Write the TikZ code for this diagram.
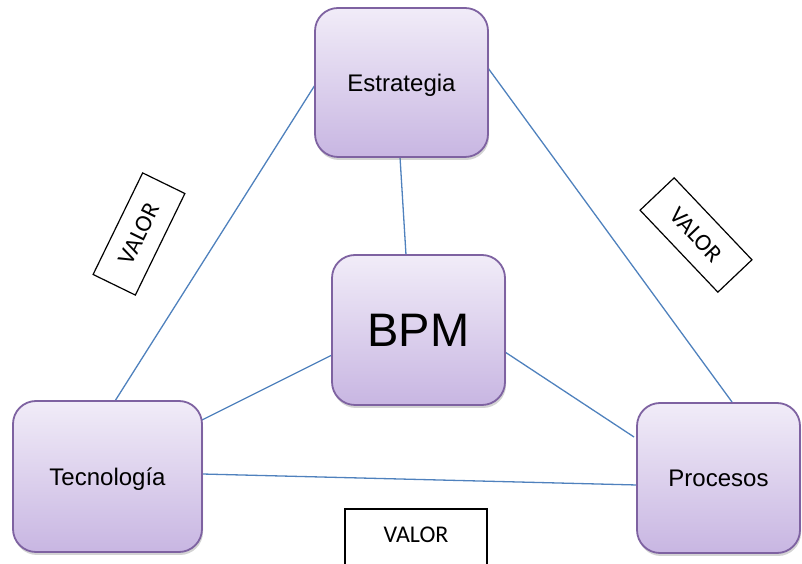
\documentclass[tikz,border=0pt]{standalone}
\usepackage{fontspec}
\setmainfont{Liberation Sans}
\newfontfamily\valorfont{Carlito}
\usetikzlibrary{calc,shadows}
\definecolor{boxborder}{HTML}{7E62A1}
\definecolor{boxtop}{HTML}{F1ECF8}
\definecolor{boxbottom}{HTML}{C8B6E2}
\definecolor{linkblue}{HTML}{4F81BD}
\tikzset{
  block/.style={rounded corners=23pt, draw=boxborder, line width=1.8pt,
    top color=boxtop, bottom color=boxbottom,
    drop shadow={opacity=0.35, shadow xshift=1pt, shadow yshift=-3pt},
    inner sep=0pt, font=\fontsize{24}{28}\selectfont},
  link/.style={draw=linkblue, line width=1.3pt},
  valorfont/.style={font=\valorfont\fontsize{24}{28}\selectfont},
  valorbox/.style={draw=black, line width=1.2pt, minimum width=113pt,
    minimum height=47pt, inner sep=0pt, valorfont},
}
\begin{document}
\begin{tikzpicture}[x=1pt,y=1pt]
\useasboundingbox (0,0) rectangle (802,564);
\clip (0,0) rectangle (802,564);

% value labels between the outer blocks
\node[valorbox, rotate=64] (vleft) at (139,330) {VALOR};
\node[valorbox, rotate=-46.5] (vright) at (696,329) {VALOR};
\coordinate (vbl) at (345,-20);
\coordinate (vtr) at (487,55);
\draw[black, line width=1.2pt] (vbl) rectangle (vtr);
\node[valorfont] (vbottom) at (416,29) {VALOR};

% connectors
\coordinate (estR) at (488,496);
\coordinate (procT) at (732,162);
\coordinate (tecT) at (115,163);
\coordinate (estL) at (315,479);
\coordinate (estB) at (400,407);
\coordinate (bpmT) at (406,309);
\coordinate (bpmL) at (332,209);
\coordinate (tecR1) at (202,144);
\coordinate (bpmR) at (505,212);
\coordinate (procL1) at (634,127);
\coordinate (tecR2) at (202,90);
\coordinate (procL2) at (637,79);
\draw[link] (estL) -- (tecT);
\draw[link] (estR) -- (procT);
\draw[link] (estB) -- (bpmT);
\draw[link] (bpmL) -- (tecR1);
\draw[link] (bpmR) -- (procL1);
\draw[link] (tecR2) -- (procL2);

% blocks
\node[block, minimum width=173pt, minimum height=149pt, text depth=0pt] (est) at (401.5,481.5) {Estrategia};
\node[block, minimum width=173pt, minimum height=150pt, font=\fontsize{47}{52}\selectfont] (bpm) at (418.5,234) {BPM};
\node[block, minimum width=189pt, minimum height=151pt, text depth=0pt] (tec) at (107.5,87.5) {Tecnología};
\node[block, minimum width=163pt, minimum height=150pt] (proc) at (718.5,86) {Procesos};
\end{tikzpicture}
\end{document}
